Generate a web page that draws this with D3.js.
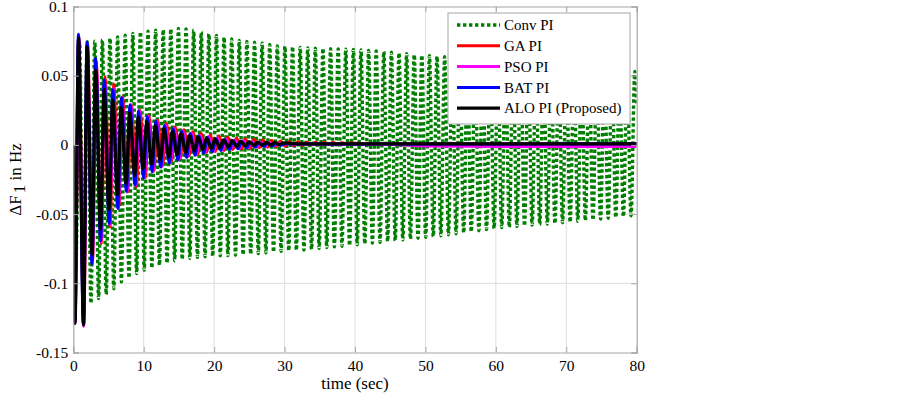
<!DOCTYPE html>
<html>
<head>
<meta charset="utf-8">
<script src="https://cdnjs.cloudflare.com/ajax/libs/d3/7.8.5/d3.min.js"></script>
<style>
  body { margin: 0; background: #fff; }
  svg { display: block; }
  text { font-family: "Liberation Serif", "Times New Roman", serif; font-size: 15px; fill: #000; }
</style>
</head>
<body>
<div id="chart"></div>
<script>
// axis ticks
const xTicks = [0, 10, 20, 30, 40, 50, 60, 70, 80];
const yTicks = [-0.15, -0.1, -0.05, 0, 0.05, 0.1];
const yTickLabels = ['-0.15', '-0.1', '-0.05', '0', '0.05', '0.1'];

const seriesNames = ['Conv PI', 'GA PI', 'PSO PI', 'BAT PI', 'ALO PI (Proposed)'];

const convStart = 0.35, convPeriod = 1.08, convLag = 0.5;
const convTroughs = [-0.09, -0.107, -0.1145, -0.111, -0.108, -0.104, -0.099, -0.096, -0.093, -0.0905,
  -0.089, -0.087, -0.0855, -0.0838, -0.0828, -0.082, -0.0813, -0.0808, -0.0805, -0.0802,
  -0.08, -0.0798, -0.0794, -0.079, -0.0785, -0.078, -0.0774, -0.077, -0.0765, -0.0762,
  -0.076, -0.0755, -0.0748, -0.0742, -0.0737, -0.0732, -0.0727, -0.0722, -0.0716, -0.071,
  -0.0704, -0.0698, -0.0692, -0.0686, -0.068, -0.0674, -0.0668, -0.0662, -0.0656, -0.065,
  -0.0642, -0.0636, -0.0628, -0.062, -0.0612, -0.0604, -0.0598, -0.0594, -0.059, -0.0585,
  -0.058, -0.0576, -0.0572, -0.0568, -0.0562, -0.0558, -0.0552, -0.0547, -0.0542, -0.0536,
  -0.053, -0.0524, -0.0518, -0.0512];
const convPeaks = [0.074, 0.0745, 0.075, 0.0758, 0.077, 0.078, 0.0792, 0.0805, 0.0815, 0.0822,
  0.0828, 0.0832, 0.0838, 0.0842, 0.0838, 0.0828, 0.0815, 0.0802, 0.079, 0.0778,
  0.0765, 0.0755, 0.0748, 0.0742, 0.0735, 0.0725, 0.0715, 0.0712, 0.071, 0.0705,
  0.07, 0.0698, 0.0697, 0.0695, 0.0694, 0.0692, 0.069, 0.0686, 0.0682, 0.0678,
  0.0674, 0.0669, 0.0664, 0.0659, 0.0652, 0.0648, 0.0644, 0.064, 0.0637, 0.0633,
  0.063, 0.0626, 0.0622, 0.0618, 0.0614, 0.061, 0.0606, 0.0602, 0.0598, 0.0594,
  0.059, 0.0586, 0.0582, 0.0578, 0.0572, 0.0568, 0.0563, 0.0558, 0.0554, 0.055,
  0.0545, 0.054, 0.0535, 0.053];
const convTailT = [80], convTailV = [0.03];

// GA PI
const gaStart = 0.24, gaPeriod = 1.245, gaLag = 0.42;
const gaTroughs = [-0.128, -0.13, -0.083, -0.0713, -0.0593, -0.0448, -0.034, -0.0303, -0.024, -0.019,
  -0.015, -0.012, -0.0095, -0.0078, -0.0065, -0.0055, -0.0047, -0.004, -0.0034, -0.0029,
  -0.0024, -0.002, -0.0016, -0.0012, -0.0009, -0.0006, -0.0003, 0, 0.0002, 0.0003, 0.0004, 0.0005];
const gaPeaks = [0.078, 0.073, 0.06, 0.0493, 0.044, 0.0348, 0.0288, 0.025, 0.0215, 0.018,
  0.0155, 0.013, 0.011, 0.0095, 0.0083, 0.0072, 0.0064, 0.0057, 0.005, 0.0045,
  0.004, 0.0036, 0.0032, 0.0028, 0.0025, 0.0022, 0.002, 0.0019, 0.0018, 0.0017, 0.0016, 0.0014];
const gaTailT = [42, 80], gaTailV = [0.0008, 0.0008];

// PSO PI
const psoStart = 0.24, psoPeriod = 1.23, psoLag = 0.42;
const psoTroughs = [-0.129, -0.131, -0.084, -0.07, -0.058, -0.046, -0.034, -0.029, -0.024, -0.0195,
  -0.016, -0.013, -0.0105, -0.0085, -0.007, -0.0057, -0.0046, -0.0037, -0.003, -0.0024,
  -0.0019, -0.0015, -0.0012, -0.0006];
const psoPeaks = [0.078, 0.073, 0.061, 0.046, 0.041, 0.034, 0.029, 0.025, 0.021, 0.0175,
  0.0145, 0.012, 0.01, 0.0085, 0.007, 0.006, 0.005, 0.0042, 0.0036, 0.003,
  0.0025, 0.002, 0.0016, 0.0012];
const psoTailT = [32, 44, 50, 62, 80], psoTailV = [0.0006, 0.0005, -0.0008, -0.0012, -0.0012];

// BAT PI
const batStart = 0.22, batPeriod = 1.22, batLag = 0.42;
const batTroughs = [-0.128, -0.129, -0.0858, -0.0694, -0.057, -0.046, -0.0335, -0.029, -0.024, -0.0195,
  -0.016, -0.013, -0.0108, -0.009, -0.0074, -0.006, -0.005, -0.004, -0.0034, -0.0028,
  -0.0022, -0.0017, -0.0012, -0.0008, -0.0004];
const batPeaks = [0.08, 0.0742, 0.0626, 0.047, 0.04, 0.034, 0.0288, 0.0245, 0.0205, 0.017,
  0.014, 0.0116, 0.0096, 0.008, 0.0066, 0.0055, 0.0045, 0.0037, 0.003, 0.0025,
  0.002, 0.0016, 0.0013, 0.001, 0.0008];
const batTailT = [32, 80], batTailV = [0.0006, 0.0008];

// ALO PI (Proposed)
const aloStart = 0.24, aloPeriod = 1.21, aloLag = 0.42;
const aloTroughs = [-0.129, -0.13, -0.079, -0.061, -0.047, -0.036, -0.028, -0.022, -0.0175, -0.014,
  -0.011, -0.0088, -0.007, -0.0055, -0.0043, -0.0034, -0.0026, -0.002, -0.0015, -0.0011,
  -0.0007, -0.0004, -0.0002, 0, 0.0002];
const aloPeaks = [0.077, 0.071, 0.054, 0.04, 0.0325, 0.027, 0.0235, 0.02, 0.0168, 0.014,
  0.0118, 0.0098, 0.0082, 0.0068, 0.0058, 0.0049, 0.0042, 0.0036, 0.0031, 0.0027,
  0.0024, 0.0021, 0.0018, 0.0016, 0.0014];
const aloTailT = [32, 80], aloTailV = [0.0008, 0.0008];

// turn trough/peak lists into [t, value] points, starting from rest at t = 0
function buildSeries(start, period, lag, troughs, peaks, tailT, tailV) {
  const pts = [[0, 0]];
  troughs.forEach((v, k) => {
    pts.push([start + k * period, v]);
    if (k < peaks.length) pts.push([start + (k + lag) * period, peaks[k]]);
  });
  tailT.forEach((t, i) => pts.push([t, tailV[i]]));
  return pts;
}

const series = [
  { name: seriesNames[0], color: '#007f00', dash: '3.4,2.6', width: 3.4,
    data: buildSeries(convStart, convPeriod, convLag, convTroughs, convPeaks, convTailT, convTailV) },
  { name: seriesNames[1], color: '#ff0000', dash: null, width: 3,
    data: buildSeries(gaStart, gaPeriod, gaLag, gaTroughs, gaPeaks, gaTailT, gaTailV) },
  { name: seriesNames[2], color: '#ff00ff', dash: null, width: 3,
    data: buildSeries(psoStart, psoPeriod, psoLag, psoTroughs, psoPeaks, psoTailT, psoTailV) },
  { name: seriesNames[3], color: '#0000ff', dash: null, width: 3,
    data: buildSeries(batStart, batPeriod, batLag, batTroughs, batPeaks, batTailT, batTailV) },
  { name: seriesNames[4], color: '#000000', dash: null, width: 3.2,
    data: buildSeries(aloStart, aloPeriod, aloLag, aloTroughs, aloPeaks, aloTailT, aloTailV) }
];

const W = 900, H = 394;
const margin = { top: 6.5, right: 263.3, bottom: 41.5, left: 73.3 };
const width = W - margin.left - margin.right;
const height = H - margin.top - margin.bottom;
const serif = '"Liberation Serif", "Times New Roman", serif';

const svg = d3.select('#chart').append('svg')
  .attr('width', W)
  .attr('height', H);

svg.append('rect').attr('width', W).attr('height', H).attr('fill', '#fff');

const g = svg.append('g')
  .attr('transform', `translate(${margin.left},${margin.top})`);

const x = d3.scaleLinear().domain([0, 80]).range([0, width]);
const y = d3.scaleLinear().domain([-0.15, 0.1]).range([height, 0]);

// grid
g.append('g')
  .selectAll('line')
  .data(xTicks.slice(1, -1))
  .join('line')
  .attr('x1', d => x(d)).attr('x2', d => x(d))
  .attr('y1', 0).attr('y2', height)
  .attr('stroke', '#dedede').attr('stroke-width', 1);

g.append('g')
  .selectAll('line')
  .data(yTicks.slice(1, -1))
  .join('line')
  .attr('x1', 0).attr('x2', width)
  .attr('y1', d => y(d)).attr('y2', d => y(d))
  .attr('stroke', '#dedede').attr('stroke-width', 1);

// lines
g.append('defs').append('clipPath').attr('id', 'plotClip')
  .append('rect').attr('width', width).attr('height', height);

const line = d3.line()
  .x(d => x(d[0]))
  .y(d => y(d[1]))
  .curve(d3.curveMonotoneX);

const lines = g.append('g').attr('clip-path', 'url(#plotClip)');
series.forEach(s => {
  lines.append('path')
    .datum(s.data)
    .attr('fill', 'none')
    .attr('stroke', s.color)
    .attr('stroke-width', s.width)
    .attr('stroke-dasharray', s.dash)
    .attr('stroke-linejoin', 'round')
    .attr('d', line);
});

// axes (ticks inward, gray frame)
const axisColor = '#a6a6a6';
const tickLen = 5.5;

const xAxis = g.append('g')
  .attr('transform', `translate(0,${height})`)
  .call(d3.axisBottom(x).tickValues(xTicks).tickSize(-tickLen).tickPadding(7));
const xAxisTop = g.append('g')
  .call(d3.axisTop(x).tickValues(xTicks).tickSize(-tickLen).tickFormat(''));
const yAxis = g.append('g')
  .call(d3.axisLeft(y).tickValues(yTicks).tickSize(-tickLen).tickPadding(5)
    .tickFormat((d, i) => yTickLabels[i]));
const yAxisRight = g.append('g')
  .attr('transform', `translate(${width},0)`)
  .call(d3.axisRight(y).tickValues(yTicks).tickSize(-tickLen).tickFormat(''));

[xAxis, xAxisTop, yAxis, yAxisRight].forEach(a => {
  a.attr('font-family', serif).attr('font-size', 15);
  a.selectAll('path').attr('stroke', axisColor).attr('stroke-width', 1.2);
  a.selectAll('line').attr('stroke', axisColor);
  a.selectAll('text')
    .style('font-family', serif)
    .style('font-size', '15.5px')
    .attr('fill', '#000');
});

// axis titles
g.append('text')
  .attr('x', width / 2)
  .attr('y', height + 36)
  .attr('text-anchor', 'middle')
  .style('font-size', '17px')
  .text('time (sec)');

const yTitle = svg.append('text')
  .attr('transform', `translate(21,${margin.top + height / 2}) rotate(-90)`)
  .attr('text-anchor', 'middle')
  .style('font-size', '17px');
yTitle.append('tspan').text('ΔF');
yTitle.append('tspan').attr('dx', 2).attr('dy', 4).text('1');
yTitle.append('tspan').attr('dy', -4).text(' in Hz');

// legend
const legend = svg.append('g').attr('transform', 'translate(448,13)');
legend.append('rect')
  .attr('width', 182).attr('height', 111)
  .attr('fill', '#fff')
  .attr('stroke', axisColor).attr('stroke-width', 1);

series.forEach((s, i) => {
  const row = legend.append('g').attr('transform', `translate(0,${12 + i * 20.8})`);
  row.append('line')
    .attr('x1', 9).attr('x2', 52)
    .attr('stroke', s.color)
    .attr('stroke-width', s.width)
    .attr('stroke-dasharray', s.dash);
  row.append('text')
    .attr('x', 56)
    .attr('dy', '0.35em')
    .text(s.name);
});
</script>
</body>
</html>
